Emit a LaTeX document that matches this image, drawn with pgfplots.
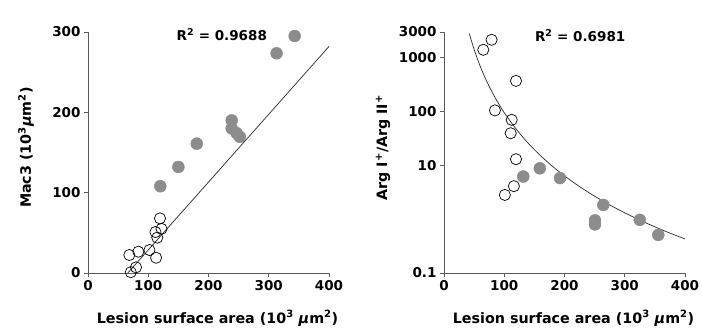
\documentclass[border=0pt]{standalone}
\usepackage{fontspec}
\setmainfont{DejaVu Sans}
\usepackage{pgfplots}
\pgfplotsset{compat=1.18}
\definecolor{fillgray}{RGB}{140,140,140}
\definecolor{axgray}{RGB}{90,90,90}
\newcommand{\lblfont}{\fontsize{13.5}{16}\selectfont\bfseries}
\newcommand{\axfont}{\fontsize{14.3}{17}\selectfont\bfseries}
\pgfplotsset{
  common/.style={
    scale only axis, width=241pt, height=241pt,
    axis lines*=left,
    axis line style={axgray, line width=0.9pt},
    tick align=outside, tick style={axgray, line width=0.8pt},
    major tick length=4pt,
    xmin=0, xmax=400, xtick={0,100,200,300,400},
    /pgf/number format/assume math mode=true,
    ticklabel style={font=\lblfont},
    clip=false,
    xlabel={Lesion surface area (10\textsuperscript{3} {\itshape μ}m\textsuperscript{2})},
    every axis x label/.style={at={(axis description cs:0.5,-0.188)}, xshift=9pt, anchor=center, font=\axfont},
  },
  open/.style={only marks, mark=o, mark size=5.6pt, mark options={draw=black, line width=0.7pt, fill=white}},
  filled/.style={only marks, mark=*, mark size=6pt, mark options={draw=fillgray, fill=fillgray}},
}
\begin{document}
\begin{tikzpicture}
\begin{axis}[common, at={(88pt,56pt)}, anchor=south west,
  ymin=0, ymax=300, ytick={0,100,200,300},
  ylabel={Mac3 (10\textsuperscript{3}{\itshape μ}m\textsuperscript{2})},
  every axis y label/.style={at={(axis description cs:-0.257,0.52)}, anchor=center, rotate=90, font=\axfont},
]
\addplot[black!85, line width=0.7pt] coordinates {(66,0) (400,282)};
\addplot[filled] coordinates {
(343,295) (313,273.5) (238.5,190) (238.5,180) (246.8,174) (252,169.5)
(180.5,161) (150,132) (120,108)};
\addplot[open] coordinates {
(119.5,68) (122,55) (112,51) (115,44) (102,28.6) (113,19)
(83.5,26.5) (68.6,22.4) (79.7,7) (71,1)};
\node[font=\lblfont] at (axis cs:222,297) {R\textsuperscript{2} = 0.9688};
\end{axis}
\begin{axis}[common, at={(444pt,56pt)}, anchor=south west,
  ymode=log, ymin=0.1, ymax=3000,
  ytick={0.1,10,100,1000,3000},
  yticklabels={0.1,10,100,1000,3000},
  minor ytick={}, 
  ylabel={Arg I\textsuperscript{+}/Arg II\textsuperscript{+}},
  every axis y label/.style={at={(axis description cs:-0.253,0.52)}, anchor=center, rotate=90, font=\axfont},
]
\addplot[black!85, line width=0.7pt, smooth] coordinates {
(42,2800) (50,1421) (60,698) (70,383) (80,227.5) (90,143.6) (100,95.2)
(120,46.8) (140,25.6) (160,15.2) (180,9.61) (200,6.38) (225,4.03)
(250,2.67) (275,1.84) (300,1.31) (325,0.96) (350,0.72) (375,0.55) (400,0.43)};
\addplot[filled] coordinates {
(131.6,6.2) (159,8.8) (192.5,5.8) (264.4,1.84) (250.6,0.95) (250.6,0.8)
(325,0.97) (355.7,0.51)};
\addplot[open] coordinates {
(65.2,1400) (79,2150) (119.5,371) (84.6,105) (112.4,70) (110.7,39.5)
(119.5,13) (116,4.1) (101,2.82)};
\node[font=\lblfont] at (axis cs:226,2600) {R\textsuperscript{2} = 0.6981};
\end{axis}
\pgfresetboundingbox
\path[use as bounding box] (0,0) rectangle (702pt,329pt);
\end{tikzpicture}
\end{document}
